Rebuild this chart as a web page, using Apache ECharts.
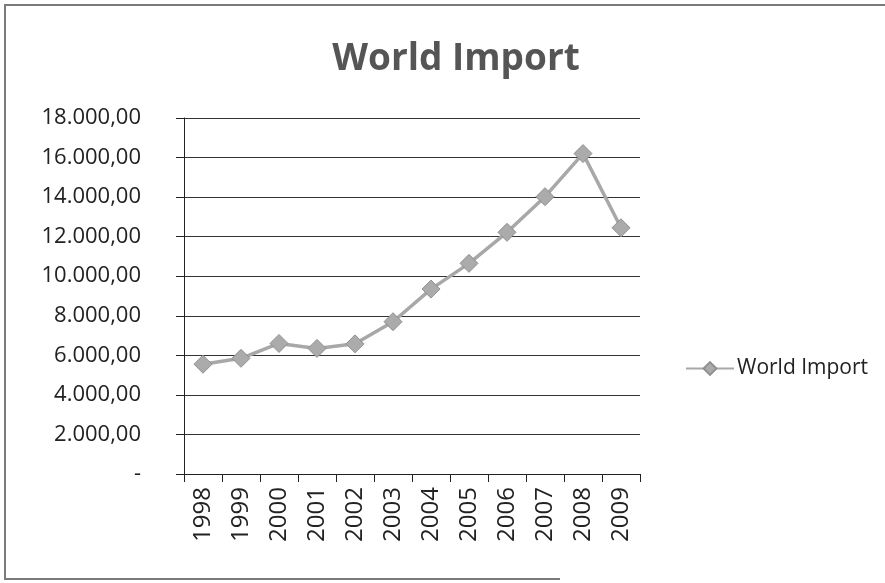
<!DOCTYPE html>
<html>
<head>
<meta charset="utf-8">
<script src="https://cdn.jsdelivr.net/npm/echarts@6/dist/echarts.min.js"></script>
<style>
  html, body { margin: 0; padding: 0; background: #fff; }
  #chart { width: 885px; height: 583px; }
</style>
</head>
<body>
<div id="chart"></div>
<script>
const years = ['1998', '1999', '2000', '2001', '2002', '2003', '2004', '2005', '2006', '2007', '2008', '2009'];
const worldImport = [5550, 5850, 6600, 6350, 6580, 7700, 9350, 10650, 12220, 14020, 16200, 12450];

const chart = echarts.init(document.getElementById('chart'));

// Excel style: 18.000,00 and a dash for zero
const formatValue = v => {
  if (v === 0) return '-';
  const whole = Math.round(v).toString().replace(/\B(?=(\d{3})+(?!\d))/g, '.');
  return whole + ',00';
};

chart.setOption({
  backgroundColor: '#fff',
  textStyle: { fontFamily: 'Open Sans' },
  title: {
    text: 'World Import',
    left: 451,
    textAlign: 'center',
    top: 36,
    textStyle: { fontSize: 37, fontWeight: 'bold', color: '#555', fontFamily: 'Open Sans' }
  },
  legend: {
    data: ['World Import'],
    left: 680,
    top: 353,
    itemWidth: 48,
    itemHeight: 16,
    itemGap: 4,
    textStyle: { fontSize: 21, color: '#222', padding: [0, 0, 0, -2] }
  },
  grid: { left: 184, right: 245, top: 118, bottom: 109 },
  xAxis: {
    type: 'category',
    data: years,
    boundaryGap: true,
    axisLine: { lineStyle: { color: '#222', width: 1 } },
    axisTick: { show: true, length: 8, lineStyle: { color: '#222' } },
    axisLabel: { rotate: 90, fontSize: 24, color: '#222', margin: 13 }
  },
  yAxis: {
    type: 'value',
    min: 0,
    max: 18000,
    interval: 2000,
    axisLine: { show: true, lineStyle: { color: '#222', width: 1 } },
    axisTick: { show: true, length: 8, lineStyle: { color: '#222' } },
    axisLabel: { fontSize: 22, color: '#222', margin: 43, formatter: formatValue },
    splitLine: { lineStyle: { color: '#333', width: 1.2 } }
  },
  series: [
    {
      name: 'World Import',
      type: 'line',
      data: worldImport,
      symbol: 'diamond',
      symbolSize: 18,
      lineStyle: { color: '#a8a8a8', width: 3.5 },
      itemStyle: { color: '#ababab', borderColor: '#909090', borderWidth: 1 }
    }
  ],
  graphic: [
    {
      type: 'polyline',
      shape: { points: [[885, 5], [5, 5], [5, 579], [560, 579]] },
      style: { stroke: '#7a7a7a', lineWidth: 2, fill: null }
    }
  ]
});
</script>
</body>
</html>
